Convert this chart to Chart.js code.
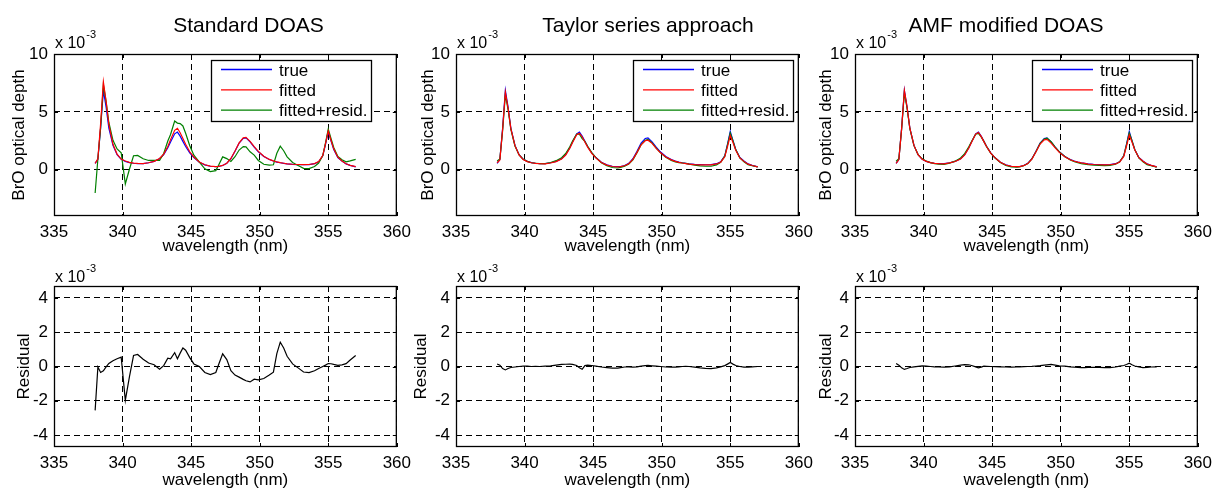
<!DOCTYPE html>
<html>
<head>
<meta charset="utf-8">
<title>BrO optical depth: DOAS fits</title>
<script src="https://cdn.jsdelivr.net/npm/chart.js@4"></script>
<style>
  body { margin: 0; background: #fff; width: 1218px; height: 494px; position: relative; overflow: hidden; }
  canvas { position: absolute; }
</style>
</head>
<body>
<canvas id="t1"></canvas>
<canvas id="t2"></canvas>
<canvas id="t3"></canvas>
<canvas id="b1"></canvas>
<canvas id="b2"></canvas>
<canvas id="b3"></canvas>
<script>
// wavelength grid (nm), values in units of 1e-3
const wavelength = [338.0, 338.2, 338.4, 338.6, 338.8, 339.0, 339.3, 339.6, 339.9, 340.2,
  340.5, 340.8, 341.1, 341.5, 341.9, 342.3, 342.7, 343.0, 343.3, 343.5,
  343.8, 344.0, 344.2, 344.4, 344.6, 344.9, 345.2, 345.6, 346.0, 346.4,
  346.8, 347.0, 347.3, 347.6, 347.9, 348.2, 348.5, 348.8, 349.0, 349.3,
  349.6, 349.9, 350.3, 350.7, 351.0, 351.25, 351.5, 351.75, 352.0, 352.4,
  352.8, 353.2, 353.6, 354.0, 354.3, 354.6, 354.8, 355.0, 355.2, 355.4,
  355.7, 356.0, 356.3, 356.6, 357.0];

const trueOD = [0.55, 0.9, 3.6, 6.85, 5.4, 3.6, 2.1, 1.3, 0.9, 0.72,
  0.62, 0.56, 0.53, 0.52, 0.6, 0.72, 0.95, 1.3, 1.9, 2.4,
  3.1, 3.25, 2.9, 2.45, 2.0, 1.45, 1.05, 0.65, 0.42, 0.3,
  0.26, 0.28, 0.36, 0.55, 0.95, 1.6, 2.3, 2.7, 2.75, 2.4,
  1.95, 1.55, 1.15, 0.88, 0.75, 0.66, 0.6, 0.55, 0.5, 0.46,
  0.44, 0.43, 0.44, 0.52, 0.68, 1.2, 2.2, 3.3, 2.5, 1.75,
  1.05, 0.75, 0.5, 0.38, 0.25];

// Standard DOAS
const fittedStd = [0.55, 0.95, 4.0, 7.6, 5.9, 3.9, 2.2, 1.35, 0.92, 0.75,
  0.64, 0.57, 0.54, 0.53, 0.6, 0.72, 0.97, 1.35, 2.0, 2.6,
  3.4, 3.58, 3.2, 2.7, 2.2, 1.55, 1.1, 0.66, 0.43, 0.31,
  0.27, 0.29, 0.37, 0.56, 0.97, 1.62, 2.32, 2.75, 2.8, 2.45,
  2.0, 1.58, 1.17, 0.89, 0.76, 0.67, 0.61, 0.56, 0.51, 0.47,
  0.45, 0.44, 0.45, 0.53, 0.7, 1.22, 2.25, 3.35, 2.55, 1.8,
  1.08, 0.76, 0.51, 0.38, 0.26];
const greenStd = [-2.01, 0.92, 3.65, 7.35, 5.88, 4.08, 2.54, 1.8, 1.47, -1.23,
  0.04, 1.21, 1.24, 0.95, 0.8, 0.82, 0.81, 1.4, 2.48, 3.05,
  4.21, 4.03, 3.98, 3.78, 3.15, 2.07, 1.25, 0.66, 0.08, -0.16,
  -0.08, 0.39, 1.11, 0.96, 0.72, 1.12, 1.7, 2.0, 1.97, 1.55,
  1.26, 0.8, 0.47, 0.39, 0.43, 1.42, 2.03, 1.64, 1.11, 0.62,
  0.37, 0.12, 0.09, 0.28, 0.58, 1.22, 2.33, 3.52, 2.71, 1.92,
  1.15, 0.86, 0.68, 0.76, 0.9];
const residStd = [-2.56, -0.03, -0.35, -0.25, -0.02, 0.18, 0.34, 0.45, 0.55, -1.98,
  -0.6, 0.64, 0.7, 0.42, 0.2, 0.1, -0.16, 0.05, 0.48, 0.45,
  0.81, 0.45, 0.78, 1.08, 0.95, 0.52, 0.15, 0.0, -0.35, -0.47,
  -0.35, 0.1, 0.74, 0.4, -0.25, -0.5, -0.62, -0.75, -0.83, -0.9,
  -0.74, -0.78, -0.7, -0.5, -0.33, 0.75, 1.42, 1.08, 0.6, 0.15,
  -0.08, -0.32, -0.36, -0.25, -0.12, 0.0, 0.08, 0.17, 0.16, 0.12,
  0.07, 0.1, 0.17, 0.38, 0.64];

// Taylor series approach
const fittedTaylor = [0.6, 0.85, 3.5, 6.7, 5.3, 3.55, 2.08, 1.28, 0.88, 0.7,
  0.6, 0.55, 0.52, 0.51, 0.58, 0.7, 0.92, 1.27, 1.85, 2.35,
  3.02, 3.15, 2.85, 2.4, 1.95, 1.42, 1.02, 0.63, 0.4, 0.28,
  0.25, 0.27, 0.34, 0.52, 0.9, 1.5, 2.15, 2.5, 2.55, 2.28,
  1.85, 1.48, 1.1, 0.85, 0.72, 0.64, 0.58, 0.53, 0.48, 0.44,
  0.42, 0.41, 0.42, 0.5, 0.65, 1.12, 2.0, 2.95, 2.35, 1.68,
  1.02, 0.72, 0.48, 0.36, 0.24];
const greenTaylor = [0.75, 0.93, 3.38, 6.5, 5.18, 3.49, 2.05, 1.28, 0.91, 0.72,
  0.6, 0.56, 0.52, 0.53, 0.62, 0.78, 1.04, 1.4, 1.99, 2.47,
  3.08, 3.07, 2.69, 2.45, 2.03, 1.48, 1.04, 0.6, 0.34, 0.19,
  0.15, 0.2, 0.31, 0.5, 0.86, 1.48, 2.17, 2.55, 2.61, 2.32,
  1.87, 1.48, 1.07, 0.81, 0.68, 0.62, 0.58, 0.54, 0.48, 0.4,
  0.34, 0.3, 0.3, 0.42, 0.63, 1.17, 2.14, 3.18, 2.49, 1.74,
  1.02, 0.68, 0.44, 0.34, 0.24];
const residTaylor = [0.15, 0.08, -0.12, -0.2, -0.12, -0.06, -0.03, 0.0, 0.03, 0.02,
  0.0, 0.01, 0.0, 0.02, 0.04, 0.08, 0.12, 0.13, 0.14, 0.12,
  0.06, -0.08, -0.16, 0.05, 0.08, 0.06, 0.02, -0.03, -0.06, -0.09,
  -0.1, -0.07, -0.03, -0.02, -0.04, -0.02, 0.02, 0.05, 0.06, 0.04,
  0.02, 0.0, -0.03, -0.04, -0.04, -0.02, 0.0, 0.01, 0.0, -0.04,
  -0.08, -0.11, -0.12, -0.08, -0.02, 0.05, 0.14, 0.23, 0.14, 0.06,
  0.0, -0.04, -0.04, -0.02, 0.0];

// AMF modified DOAS
const fittedAMF = [0.55, 0.88, 3.55, 6.85, 5.4, 3.6, 2.1, 1.3, 0.9, 0.72,
  0.61, 0.55, 0.52, 0.51, 0.59, 0.71, 0.93, 1.28, 1.88, 2.38,
  3.08, 3.22, 2.88, 2.43, 1.98, 1.44, 1.04, 0.64, 0.41, 0.29,
  0.26, 0.27, 0.35, 0.53, 0.92, 1.55, 2.22, 2.58, 2.62, 2.3,
  1.88, 1.5, 1.12, 0.86, 0.73, 0.65, 0.59, 0.54, 0.49, 0.45,
  0.43, 0.42, 0.43, 0.5, 0.66, 1.15, 2.05, 3.0, 2.4, 1.72,
  1.04, 0.74, 0.49, 0.37, 0.25];
const greenAMF = [0.73, 0.96, 3.47, 6.68, 5.28, 3.54, 2.08, 1.31, 0.94, 0.74,
  0.61, 0.53, 0.49, 0.47, 0.57, 0.74, 1.01, 1.39, 1.98, 2.44,
  3.06, 3.14, 2.84, 2.45, 1.99, 1.44, 1.03, 0.62, 0.38, 0.25,
  0.23, 0.25, 0.34, 0.53, 0.93, 1.58, 2.27, 2.66, 2.72, 2.42,
  1.96, 1.54, 1.14, 0.84, 0.69, 0.6, 0.53, 0.48, 0.44, 0.4,
  0.38, 0.36, 0.37, 0.47, 0.68, 1.21, 2.17, 3.19, 2.5, 1.75,
  1.02, 0.68, 0.44, 0.34, 0.23];
const residAMF = [0.18, 0.08, -0.08, -0.17, -0.12, -0.06, -0.02, 0.01, 0.04, 0.02,
  0.0, -0.02, -0.03, -0.04, -0.02, 0.03, 0.08, 0.11, 0.1, 0.06,
  -0.02, -0.08, -0.04, 0.02, 0.01, 0.0, -0.01, -0.02, -0.03, -0.04,
  -0.03, -0.02, -0.01, 0.0, 0.01, 0.03, 0.05, 0.08, 0.1, 0.12,
  0.08, 0.04, 0.02, -0.02, -0.04, -0.05, -0.06, -0.06, -0.05, -0.05,
  -0.05, -0.06, -0.06, -0.03, 0.02, 0.06, 0.12, 0.19, 0.1, 0.03,
  -0.02, -0.06, -0.05, -0.03, -0.02];

const titles = ['Standard DOAS', 'Taylor series approach', 'AMF modified DOAS'];
const seriesLabels = ['true', 'fitted', 'fitted+resid.'];
const xTicks = [335, 340, 345, 350, 355, 360];
const odTicks = [0, 5, 10];
const residTicks = [-4, -2, 0, 2, 4];

const FONT = '"Liberation Sans", Arial, Helvetica, sans-serif';
Chart.defaults.font.family = FONT;
Chart.defaults.color = '#000';

const pts = ys => wavelength.map((x, i) => ({ x: x, y: ys[i] }));

// MATLAB-like frame: box, inward ticks, x10^-3, title, legend
const frame = {
  id: 'frame',
  afterDraw(chart, args, o) {
    const { ctx, chartArea: a } = chart;
    const xs = chart.scales.x, ys = chart.scales.y;
    ctx.save();
    ctx.strokeStyle = '#000';
    ctx.lineWidth = 1;
    ctx.beginPath();
    xs.ticks.forEach(t => {
      const px = Math.round(xs.getPixelForValue(t.value)) + 0.5;
      ctx.moveTo(px, a.bottom); ctx.lineTo(px, a.bottom - 4);
      ctx.moveTo(px, a.top); ctx.lineTo(px, a.top + 4);
    });
    ys.ticks.forEach(t => {
      const py = Math.round(ys.getPixelForValue(t.value)) + 0.5;
      ctx.moveTo(a.left, py); ctx.lineTo(a.left + 4, py);
      ctx.moveTo(a.right, py); ctx.lineTo(a.right - 4, py);
    });
    ctx.stroke();
    ctx.lineWidth = 1.3;
    ctx.strokeRect(a.left + 0.5, a.top + 0.5, a.right - a.left - 1, a.bottom - a.top - 1);

    ctx.fillStyle = '#000';
    ctx.textAlign = 'left';
    ctx.textBaseline = 'alphabetic';
    ctx.font = '16px ' + FONT;
    const base = a.top - o.expDy;
    ctx.fillText('x 10', a.left + 1, base);
    const w = ctx.measureText('x 10').width;
    ctx.font = '11px ' + FONT;
    ctx.fillText('-3', a.left + 2 + w, base - 10);

    if (o.title) {
      ctx.font = '21px ' + FONT;
      ctx.textAlign = 'center';
      ctx.fillText(o.title, o.titleX, o.titleY);
    }

    if (o.legend) {
      const L = o.legend;
      const bx = Math.round(a.right - L.right - L.w), by = a.top + 6;
      ctx.fillStyle = '#fff';
      ctx.fillRect(bx, by, L.w, L.h);
      ctx.strokeStyle = '#000';
      ctx.lineWidth = 1.3;
      ctx.strokeRect(bx + 0.5, by + 0.5, L.w - 1, L.h - 1);
      ctx.font = '17px ' + FONT;
      ctx.textAlign = 'left';
      chart.data.datasets.forEach((ds, i) => {
        const y = by + 9.5 + i * 20.3;
        ctx.strokeStyle = ds.borderColor;
        ctx.lineWidth = 1.3;
        ctx.beginPath();
        ctx.moveTo(bx + 10, y); ctx.lineTo(bx + 61, y);
        ctx.stroke();
        ctx.fillStyle = '#000';
        ctx.fillText(ds.label, bx + 68, y + 6);
      });
    }
    ctx.restore();
  }
};

const colLeft = [0, 402, 801];
const topRow = { top: 0, h: 260, padTop: 54, xH: 44, xTitlePad: 3, yMin: -4, yMax: 10, yTicks: odTicks,
  yTitle: 'BrO optical depth', yTitlePad: [8.8, 15.8, 14.8], expDy: 6 };
const botRow = { top: 240, h: 254, padTop: 46, xH: 47, xTitlePad: 3, yMin: -4.7, yMax: 4.7, yTicks: residTicks,
  yTitle: 'Residual', yTitlePad: [13.8, 9.5, 14.8], expDy: 4.5 };
const titleX = [248.5, 246, 205];
const legendRight = [25, 5, 5];

function axisOpts(row, col) {
  const gridCfg = { color: '#000', lineWidth: 1, drawTicks: false };
  return {
    x: {
      type: 'linear', min: 335, max: 360,
      afterBuildTicks: s => { s.ticks = xTicks.map(v => ({ value: v })); },
      afterFit: s => { s.height = row.xH; },
      grid: gridCfg,
      border: { display: false, dash: [6, 4] },
      ticks: { padding: 6, font: { size: 17 }, maxRotation: 0, autoSkip: false, callback: v => String(v) },
      title: { display: true, text: 'wavelength (nm)', font: { size: 17 }, padding: { top: 0, bottom: row.xTitlePad } }
    },
    y: {
      type: 'linear', min: row.yMin, max: row.yMax,
      afterBuildTicks: s => { s.ticks = row.yTicks.map(v => ({ value: v })); },
      afterFit: s => { s.width = 54; },
      grid: gridCfg,
      border: { display: false, dash: [6, 4] },
      ticks: { padding: 6, font: { size: 17 }, autoSkip: false, callback: v => String(v) },
      title: { display: true, text: row.yTitle, font: { size: 17 }, padding: { top: row.yTitlePad[col], bottom: 0 } }
    }
  };
}

function makeChart(id, row, col, datasets, frameOpts) {
  const el = document.getElementById(id);
  el.width = 417; el.height = row.h;
  el.style.left = colLeft[col] + 'px';
  el.style.top = row.top + 'px';
  new Chart(el, {
    type: 'line',
    data: { datasets: datasets },
    options: {
      responsive: false, animation: false, devicePixelRatio: 1,
      layout: { padding: { top: row.padTop, right: 16, bottom: 0, left: 0 } },
      elements: { point: { radius: 0 }, line: { borderWidth: 1.2, tension: 0, fill: false } },
      plugins: { legend: { display: false }, tooltip: { enabled: false }, title: { display: false }, frame: frameOpts },
      scales: axisOpts(row, col)
    },
    plugins: [frame]
  });
}

const fitted = [fittedStd, fittedTaylor, fittedAMF];
const green = [greenStd, greenTaylor, greenAMF];
const resid = [residStd, residTaylor, residAMF];

for (let c = 0; c < 3; c++) {
  makeChart('t' + (c + 1), topRow, c, [
    { label: seriesLabels[0], data: pts(trueOD), borderColor: '#0000ff', order: 2 },
    { label: seriesLabels[1], data: pts(fitted[c]), borderColor: '#ff0000', order: 0 },
    { label: seriesLabels[2], data: pts(green[c]), borderColor: '#008000', order: 1 }
  ], { expDy: topRow.expDy, title: titles[c], titleX: titleX[c], titleY: 32,
       legend: { right: legendRight[c], w: 161, h: 62 } });

  makeChart('b' + (c + 1), botRow, c, [
    { label: 'residual', data: pts(resid[c]), borderColor: '#000' }
  ], { expDy: botRow.expDy });
}
</script>
</body>
</html>
